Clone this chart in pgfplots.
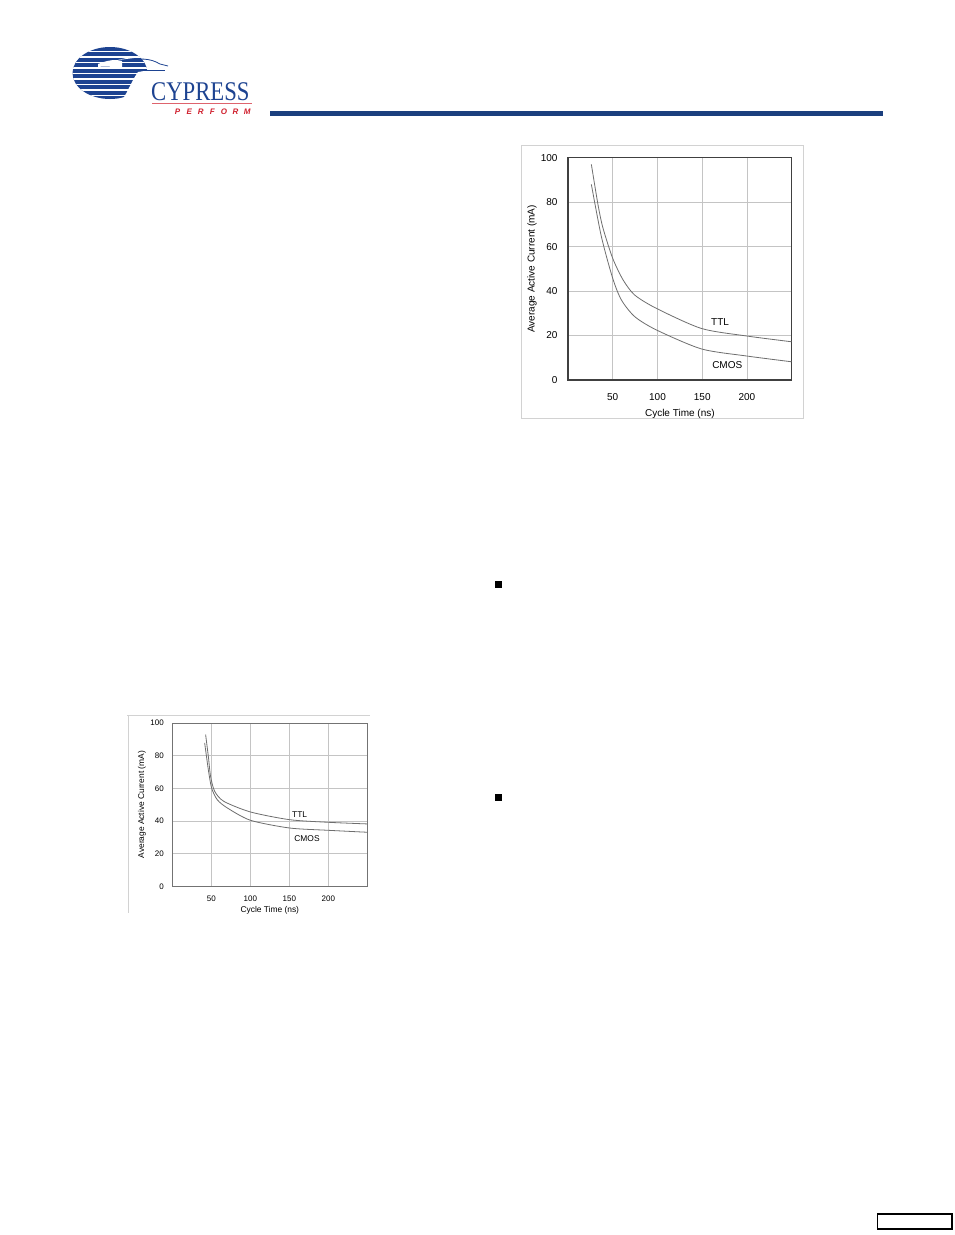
\documentclass[border=0pt]{standalone}
\usepackage{pgfplots}
\pgfplotsset{compat=1.18}
\usepackage{fontspec}
\setmainfont{Liberation Sans}
\newfontfamily\logofont{Liberation Serif}
\definecolor{navy}{HTML}{1B3F7E}
\definecolor{logoblue}{HTML}{1D4391}
\definecolor{logored}{HTML}{D0202E}
\definecolor{gridgray}{HTML}{C4C4C4}
\definecolor{curvegray}{HTML}{6E6E6E}

\pgfplotsset{
  chart/.style={
    scale only axis,
    anchor=south west,
    xmin=0, xmax=250, ymin=0, ymax=100,
    xtick={50,100,150,200},
    ytick={0,20,40,60,80,100},
    grid=major,
    major grid style={gridgray, line width=0.8pt},
    major tick length=0pt,
    /pgf/number format/assume math mode=true,
    clip=false,
  },
  curve/.style={curvegray, line width=0.8pt, smooth, tension=0.45, mark=none},
}

\begin{document}
\begin{tikzpicture}[x=1pt,y=1pt]
\path[use as bounding box, fill=white] (0,0) rectangle (954,-1235);

% header: logo and rule
\begin{scope}
  \clip (110,-73) ellipse (37.5 and 26);
  \fill[logoblue] (60,-40) rectangle (160,-110);
  \foreach \yy in {50.5,56,61.5,67,72.5,78,83.5,89,94.5}
    \fill[white] (60,-\yy) rectangle (160,-\yy-1.8);
\end{scope}
\fill[white] (118,-60) .. controls (128,-57) and (140,-56) .. (152,-60)
  -- (162,-66) -- (150,-70) -- (138,-72) .. controls (132,-80) and (128,-92) .. (122,-100)
  -- (150,-100) -- (150,-56) -- cycle;
\fill[white] (98,-64) .. controls (108,-60) and (116,-59) .. (122,-61) -- (122,-68)
  .. controls (114,-67) and (106,-66) .. (98,-67) -- cycle;
\draw[logoblue, line width=0.8pt] (122,-61) .. controls (140,-58) and (150,-58) .. (160,-64)
  -- (168,-66);
\draw[logoblue, line width=0.6pt] (140,-70) -- (165,-70);
\node[anchor=base west, inner sep=0pt, text=logoblue, xscale=0.84]
  at (151,-100) {\logofont\fontsize{27}{30}\selectfont CYPRESS};
\draw[logored!70, line width=0.6pt] (152,-103.5) -- (252,-103.5);
\foreach \ch [count=\i] in {P,E,R,F,O,R,M}
  \node[anchor=base, inner sep=0pt, text=logored] at (166+11.6*\i,-114)
    {\fontsize{8}{9}\selectfont\bfseries\itshape\ch};
\fill[navy] (270,-111) rectangle (883,-116);

% bullets and page box
\fill[black] (495,-581) rectangle (502,-588);
\fill[black] (495,-794) rectangle (502,-801);
\draw[black, line width=1.4pt] (877.5,-1214) rectangle (952,-1229);

% frames round the charts
\draw[gray!35, line width=0.8pt] (521.5,-145) rectangle (803,-418.5);
\draw[gray!35, line width=0.8pt] (127,-715) -- (370,-715);
\draw[gray!35, line width=0.8pt] (128,-715) -- (128,-913);

% upper chart
\begin{axis}[chart,
  at={(568pt,-380pt)}, width=223.7pt, height=222.3pt,
  axis line style={black!75, line width=1.1pt},
  tick label style={font=\fontsize{10}{12}\selectfont},
  yticklabel style={xshift=-7pt},
  xticklabel style={yshift=-10pt},
]
\addplot[curve] coordinates {
  (26.1,97) (33.6,78.7) (39.2,68.2) (50,54.7) (61.6,45) (74.6,38.2)
  (98.9,32.2) (149,23.2) (199.6,19.8) (250,17.2)
};
\addplot[curve] coordinates {
  (26.1,88) (37.3,64.5) (50,45.7) (59.7,36) (74.6,28.5) (98.9,22.5)
  (149,14) (199.6,10.8) (250,8.2)
};
\node[font=\fontsize{10}{12}\selectfont] at (axis cs:170,26.1) {TTL};
\node[font=\fontsize{10}{12}\selectfont] at (axis cs:178,6.7) {CMOS};
\node[font=\fontsize{10}{12}\selectfont] at (axis description cs:0.5,-0.153) {Cycle Time (ns)};
\node[font=\fontsize{10}{12}\selectfont, rotate=90] at (axis description cs:-0.161,0.5)
  {Average Active Current (mA)};
\end{axis}

% lower chart
\begin{axis}[chart,
  at={(172.3pt,-886.3pt)}, width=195pt, height=163.3pt,
  axis line style={black!55, line width=0.9pt},
  tick label style={font=\fontsize{8}{9}\selectfont},
  yticklabel style={xshift=-5pt},
  xticklabel style={yshift=-6pt},
]
\addplot[curve] coordinates {
  (42.7,92.9) (46.2,79.6) (49.1,67.3) (54.3,58.2) (66.2,52)
  (100.4,45.5) (150.4,40.8) (200,39.2) (250,38.2)
};
\addplot[curve] coordinates {
  (41.5,87.8) (46.2,71.4) (50.4,60.2) (57.7,53) (70.5,48)
  (100.4,40.4) (150.4,35.7) (200,34.3) (250,33.1)
};
\node[font=\fontsize{8.4}{9}\selectfont] at (axis cs:163.3,43.8) {TTL};
\node[font=\fontsize{8.4}{9}\selectfont] at (axis cs:172.7,29) {CMOS};
\node[font=\fontsize{8.4}{9}\selectfont] at (axis description cs:0.5,-0.15) {Cycle Time (ns)};
\node[font=\fontsize{8.4}{9}\selectfont, rotate=90] at (axis description cs:-0.155,0.5)
  {Average Active Current (mA)};
\end{axis}
\end{tikzpicture}
\end{document}
